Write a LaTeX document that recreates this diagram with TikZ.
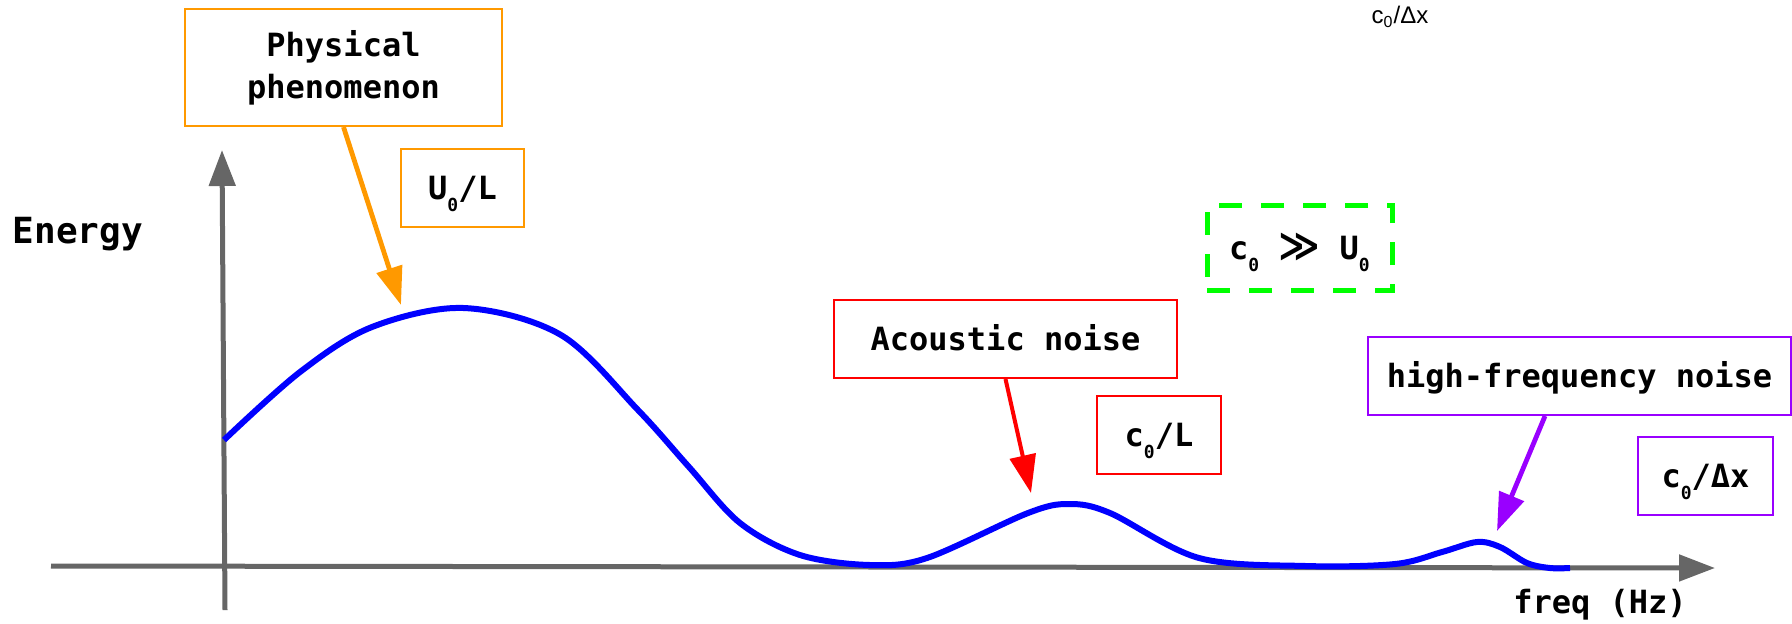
\documentclass[tikz,border=0pt]{standalone}
\usepackage{fontspec}
\setmainfont{DejaVu Sans Mono}
\newfontfamily\symfont{DejaVu Sans}
\newfontfamily\plainfont{Liberation Sans}
\usetikzlibrary{arrows.meta,calc}
\definecolor{axisgrey}{HTML}{666666}
\definecolor{physorange}{HTML}{FF9900}
\definecolor{noisered}{HTML}{FF0000}
\definecolor{ratiogreen}{HTML}{00FF00}
\definecolor{hfpurple}{HTML}{9900FF}
\definecolor{curveblue}{HTML}{0000FF}
\newcommand{\zsub}{\raisebox{-6pt}{\fontsize{9pt}{9pt}\selectfont 0}}
\begin{document}
\begin{tikzpicture}[x=0.5pt, y=-0.5pt,
  every node/.style={font=\fontsize{16pt}{21pt}\selectfont\bfseries},
  box/.style={draw, line width=1pt, inner sep=0pt, minimum height=39pt, text height=11.7pt, text depth=0pt},
  pointer/.style={-{Triangle[length=19pt,width=13pt]}, line width=2.4pt},
  axis/.style={draw=axisgrey, line width=2.5pt, -{Triangle[length=18pt,width=13pt]}}]
  \useasboundingbox (0,0) rectangle (1792,623);
  \draw[axis] (51,566) -- (1715,568);
  \draw[axis] (225,610) -- (222,150);
  \node[anchor=base, font=\fontsize{18pt}{18pt}\selectfont\bfseries] (energy) at (78,243) {Energy};
  \node[anchor=base] (freq) at (1600,613) {freq (Hz)};
  \draw[curveblue, line width=3pt] plot[smooth, tension=0.55] coordinates {(224,440) (300,372) (372,327) (464,308) (561,335) (638,410) (689,467) (740,523) (800,555) (870,565) (927,558) (1028,513) (1069,504) (1110,513) (1199,558) (1306,566) (1395,564) (1442,552) (1477,542) (1500,547) (1527,563) (1550,568) (1570,568)};
  \node[draw=physorange, line width=1pt, minimum width=158.5pt, minimum height=58.5pt, align=center] (phys) at (343.5,67.5) {Physical\\phenomenon};
  \node[box, draw=physorange, minimum width=61.5pt] (uL) at (462.5,188) {U\zsub/L};
  \node[box, draw=noisered, minimum width=171.5pt] (acoustic) at (1005.5,339) {Acoustic noise};
  \node[box, draw=noisered, minimum width=62pt] (cL) at (1159,435) {c\zsub/L};
  \node[box, draw=ratiogreen, line width=2.5pt, dash pattern=on 11.5pt off 9.5pt, minimum width=92.5pt, minimum height=42.5pt] (ratio) at (1299.5,247.5) {c\zsub{} {\symfont\fontsize{20pt}{20pt}\selectfont ≫} U\zsub};
  \node[box, draw=hfpurple, minimum width=211.5pt] (hf) at (1579.5,376) {high-frequency noise};
  \node[box, draw=hfpurple, minimum width=67.5pt] (cdx) at (1705.5,476) {c\zsub/Δx};
  \node[font=\plainfont\fontsize{12pt}{12pt}\selectfont] (topcdx) at (1400,17) {c\textsubscript{0}/Δx};
  \coordinate (physTip) at (401,305);
  \coordinate (acousticTip) at (1031,493);
  \coordinate (hfTip) at (1497,531);
  \draw[pointer, physorange] (phys.south) -- (physTip);
  \draw[pointer, noisered, line width=2pt] (acoustic.south) -- (acousticTip);
  \draw[pointer, hfpurple] ($(hf.south)+(-34.5,0)$) -- (hfTip);
\end{tikzpicture}
\end{document}
